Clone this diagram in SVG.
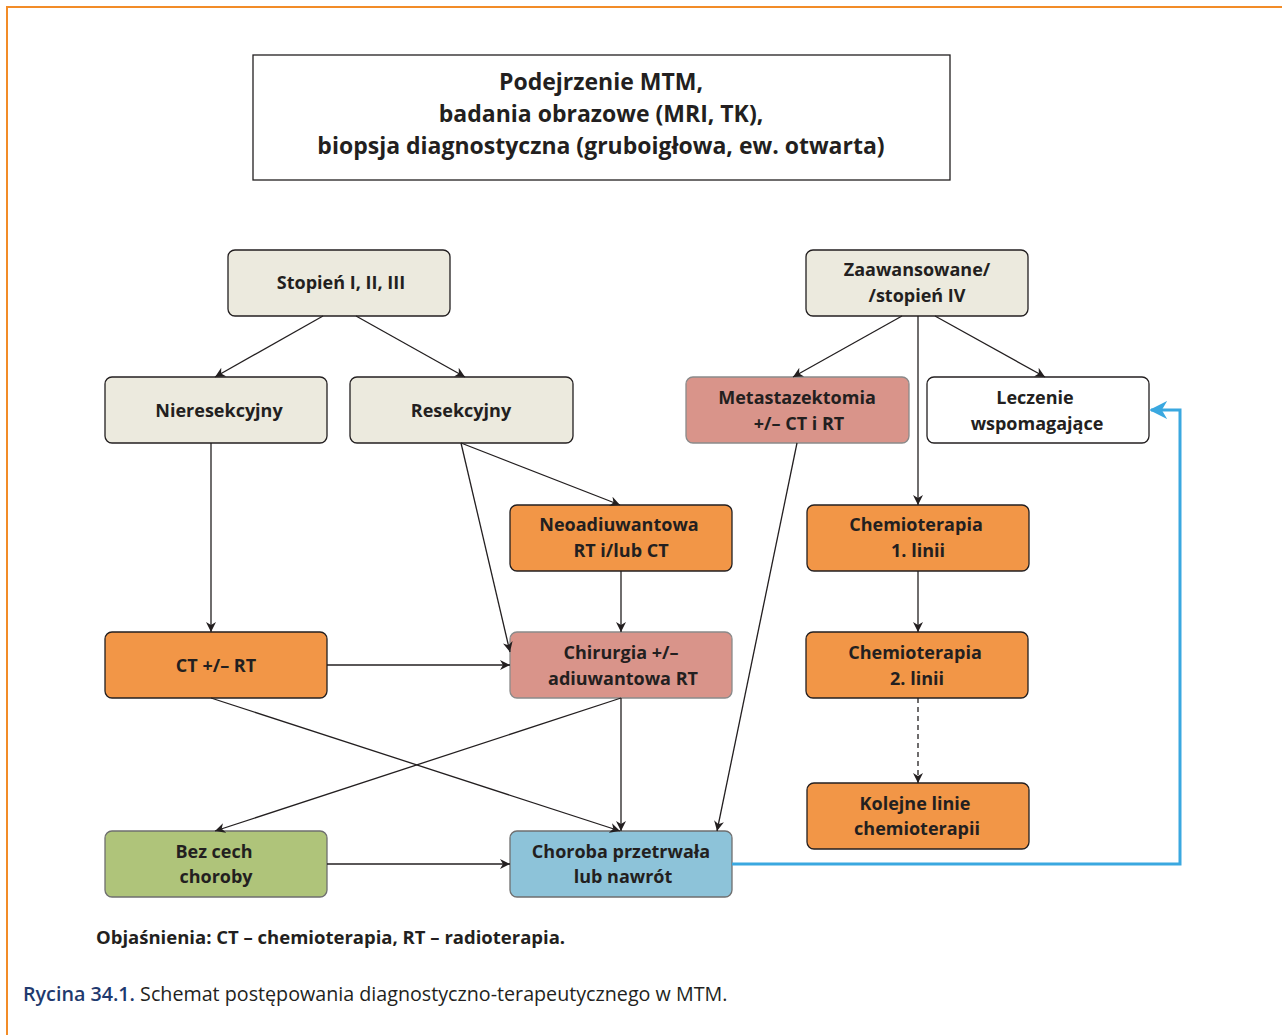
<svg xmlns="http://www.w3.org/2000/svg" width="1282" height="1035" viewBox="0 0 1282 1035">
<defs>
<marker id="ah" viewBox="0 0 10 10" refX="10" refY="5" markerWidth="10" markerHeight="10" markerUnits="userSpaceOnUse" orient="auto"><path d="M0,0 L10,5 L0,10 L3,5 z" fill="#231f20"/></marker>
<marker id="ahb" viewBox="0 0 10 10" refX="9" refY="5" markerWidth="18" markerHeight="18" markerUnits="userSpaceOnUse" orient="auto"><path d="M0,0 L10,5 L0,10 L3,5 z" fill="#3aa8e0"/></marker>
<style>
.n{stroke:#231f20;stroke-width:1.3}
.beige{fill:#eceade}
.orange{fill:#f29647}
.pink{fill:#d9948a;stroke:#8a8a8a}
.white{fill:#ffffff}
.green{fill:#afc47a;stroke:#6f6f6f}
.blue{fill:#8dc3d9;stroke:#6f6f6f}
text{font-family:"Open Sans","Liberation Sans",sans-serif;font-weight:700;font-size:18px;fill:#231f20;text-anchor:middle}
.c{stroke:#231f20;stroke-width:1.3;fill:none;marker-end:url(#ah)}
</style>
</defs>
<rect width="1282" height="1035" fill="#ffffff"/>
<path d="M7,1035 L7,7 L1282,7" fill="none" stroke="#f28c28" stroke-width="2"/>

<g id="top">
<rect x="253" y="55" width="697" height="125" fill="#fff" stroke="#231f20" stroke-width="1.3"/>
<text x="601" y="90" style="font-size:23px">Podejrzenie MTM,</text>
<text x="601" y="122" style="font-size:23px">badania obrazowe (MRI, TK),</text>
<text x="601" y="154" style="font-size:23px">biopsja diagnostyczna (gruboigłowa, ew. otwarta)</text>
</g>

<g id="stopien"><rect class="n beige" x="228" y="250" width="222" height="66" rx="7"/><text x="341" y="289">Stopień I, II, III</text></g>
<g id="nieres"><rect class="n beige" x="105" y="377" width="222" height="66" rx="7"/><text x="219" y="417">Nieresekcyjny</text></g>
<g id="resek"><rect class="n beige" x="350" y="377" width="223" height="66" rx="7"/><text x="461" y="417">Resekcyjny</text></g>
<g id="zaaw"><rect class="n beige" x="806" y="250" width="222" height="66" rx="7"/><text x="917" y="276">Zaawansowane/</text><text x="917" y="302">/stopień IV</text></g>
<g id="meta"><rect class="pink" stroke-width="1.3" x="686" y="377" width="223" height="66" rx="7"/><text x="797" y="404">Metastazektomia</text><text x="799" y="430">+/– CT i RT</text></g>
<g id="leczenie"><rect class="n white" x="927" y="377" width="222" height="66" rx="7"/><text x="1035" y="404">Leczenie</text><text x="1037" y="430">wspomagające</text></g>
<g id="neo"><rect class="n orange" x="510" y="505" width="222" height="66" rx="7"/><text x="619" y="531">Neoadiuwantowa</text><text x="621" y="557">RT i/lub CT</text></g>
<g id="chemo1"><rect class="n orange" x="807" y="505" width="222" height="66" rx="7"/><text x="916" y="531">Chemioterapia</text><text x="918" y="557">1. linii</text></g>
<g id="ctrt"><rect class="n orange" x="105" y="632" width="222" height="66" rx="7"/><text x="216" y="672">CT +/– RT</text></g>
<g id="chir"><rect class="pink" stroke-width="1.3" x="510" y="632" width="222" height="66" rx="7"/><text x="621" y="659">Chirurgia +/–</text><text x="623" y="685">adiuwantowa RT</text></g>
<g id="chemo2"><rect class="n orange" x="806" y="632" width="222" height="66" rx="7"/><text x="915" y="659">Chemioterapia</text><text x="917" y="685">2. linii</text></g>
<g id="kolejne"><rect class="n orange" x="807" y="783" width="222" height="66" rx="7"/><text x="915" y="810">Kolejne linie</text><text x="917" y="835">chemioterapii</text></g>
<g id="bez"><rect class="green" stroke-width="1.3" x="105" y="831" width="222" height="66" rx="7"/><text x="214" y="858">Bez cech</text><text x="216" y="883">choroby</text></g>
<g id="choroba"><rect class="blue" stroke-width="1.3" x="510" y="831" width="222" height="66" rx="7"/><text x="621" y="858">Choroba przetrwała</text><text x="623" y="883">lub nawrót</text></g>

<g id="connectors">
<line class="c" x1="323" y1="316" x2="215" y2="377"/>
<line class="c" x1="356" y1="316" x2="465" y2="377"/>
<line class="c" x1="902" y1="316" x2="793" y2="377"/>
<line class="c" x1="935" y1="316" x2="1045" y2="377"/>
<line class="c" x1="918" y1="316" x2="918" y2="505"/>
<line class="c" x1="211" y1="443" x2="211" y2="632"/>
<line class="c" x1="461" y1="443" x2="620" y2="505"/>
<line class="c" x1="461" y1="443" x2="510" y2="652"/>
<line class="c" x1="621" y1="571" x2="621" y2="632"/>
<line class="c" x1="327" y1="665" x2="510" y2="665"/>
<line class="c" x1="211" y1="698" x2="620" y2="831"/>
<line class="c" x1="621" y1="698" x2="215" y2="831"/>
<line class="c" x1="621" y1="698" x2="621" y2="831"/>
<line class="c" x1="797" y1="443" x2="717" y2="831"/>
<line class="c" x1="918" y1="571" x2="918" y2="632"/>
<line class="c" x1="918" y1="698" x2="918" y2="783" stroke-dasharray="5,4"/>
<line class="c" x1="327" y1="864" x2="510" y2="864"/>
<path d="M732,864 L1180,864 L1180,410 L1151,410" fill="none" stroke="#3aa8e0" stroke-width="3" marker-end="url(#ahb)"/>
</g>

<text x="96" y="944" style="text-anchor:start;font-size:18.5px">Objaśnienia: CT – chemioterapia, RT – radioterapia.</text>
<text x="23" y="1001" style="text-anchor:start;font-size:19.7px;font-weight:400"><tspan style="font-weight:600;fill:#1f3a6e">Rycina 34.1.</tspan> Schemat postępowania diagnostyczno-terapeutycznego w MTM.</text>
</svg>
